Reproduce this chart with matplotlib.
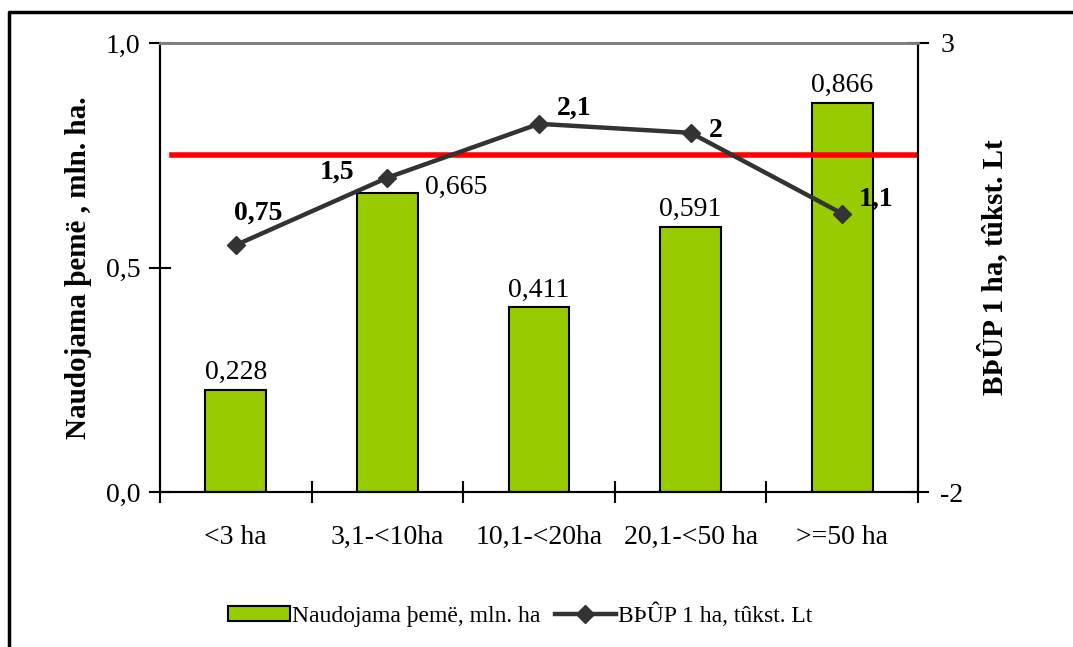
import matplotlib
matplotlib.use("Agg")
import matplotlib.pyplot as plt
from matplotlib.lines import Line2D
import numpy as np

categories = ["<3 ha", "3,1-<10ha", "10,1-<20ha", "20,1-<50 ha", ">=50 ha"]
land = [0.228, 0.665, 0.411, 0.591, 0.866]
land_labels = ["0,228", "0,665", "0,411", "0,591", "0,866"]
bvp = [0.75, 1.5, 2.1, 2.0, 1.1]
bvp_labels = ["0,75", "1,5", "2,1", "2", "1,1"]
red_level = 0.75

left_ticks = [0.0, 0.5, 1.0]
left_ticklabels = ["0,0", "0,5", "1,0"]
right_ticks = [-2, 3]
right_ticklabels = ["-2", "3"]

plt.rcParams["font.family"] = ["Liberation Serif", "DejaVu Serif"]
fs = 20

fig = plt.figure(figsize=(10.73, 6.47), dpi=100)
ax = fig.add_axes([160 / 1073, 1 - 492 / 647, 758 / 1073, 449 / 647])
ax2 = ax.twinx()

x = np.arange(len(categories))
bars = ax.bar(x, land, width=0.4, color="#99CC00", edgecolor="black", linewidth=1.5,
              label="Naudojama þemë, mln. ha", zorder=2)
ax.set_xlim(-0.5, len(categories) - 0.5)
ax.set_ylim(0, 1)
ax.axhline(red_level, xmin=0.016, xmax=1, color="#FF0000", linewidth=4, zorder=3)

line, = ax2.plot(x, bvp, color="#333333", linewidth=3.2, marker="D", markersize=9,
                 label="BÞÛP 1 ha, tûkst. Lt", zorder=4)
ax2.set_ylim(-2, 3)

# bar labels
for i, (v, s) in enumerate(zip(land, land_labels)):
    if i == 1:
        ax.annotate(s, (i, v), xytext=(38, 6), textcoords="offset pixels",
                    ha="left", va="center", fontsize=fs)
    else:
        ax.annotate(s, (i, v), xytext=(0, 5), textcoords="offset pixels",
                    ha="center", va="bottom", fontsize=fs)

# line labels
offs = [(22, 32), (-50, 6), (35, 16), (25, 2), (34, 14)]
for i, (v, s) in enumerate(zip(bvp, bvp_labels)):
    ax2.annotate(s, (i, v), xytext=offs[i], textcoords="offset pixels",
                 ha="center", va="center", fontsize=fs, fontweight="bold", zorder=5)

ax.set_yticks(left_ticks)
ax.set_yticklabels(left_ticklabels, fontsize=fs)
ax2.set_yticks(right_ticks)
ax2.set_yticklabels(right_ticklabels, fontsize=fs)
ax.tick_params(axis="y", direction="inout", length=16, width=1.5, pad=6)
ax2.tick_params(axis="y", direction="inout", length=16, width=1.5, pad=8)

ax.set_xticks(np.arange(-0.5, len(categories)))
ax.set_xticklabels([])
ax.set_xticks(x, minor=True)
ax.set_xticklabels(categories, minor=True, fontsize=fs)
ax.tick_params(axis="x", which="major", direction="inout", length=16, width=1.5)
ax.tick_params(axis="x", which="minor", length=0, pad=24)

for a in (ax, ax2):
    a.spines["top"].set_color("#808080")
    a.spines["top"].set_linewidth(2)
    for side in ("left", "right", "bottom"):
        a.spines[side].set_linewidth(1.5)

ax.set_ylabel("Naudojama þemë , mln. ha.", fontsize=21, fontweight="bold", labelpad=10)
ax2.set_ylabel("BÞÛP 1 ha, tûkst. Lt", fontsize=21, fontweight="bold", labelpad=10)

fig.legend(handles=[bars, line], loc="center", bbox_to_anchor=(0.485, 1 - 615 / 647),
           ncol=2, frameon=False, fontsize=17, handlelength=2.6, handleheight=0.6,
           columnspacing=0.6, handletextpad=0.1)

# outer frame (left and top edges visible)
fig.add_artist(Line2D([9 / 1073, 9 / 1073, 1.0], [0.0, 1 - 12 / 647, 1 - 12 / 647],
                      transform=fig.transFigure, color="black", linewidth=2.5))

fig.savefig("out.png", dpi=100)
